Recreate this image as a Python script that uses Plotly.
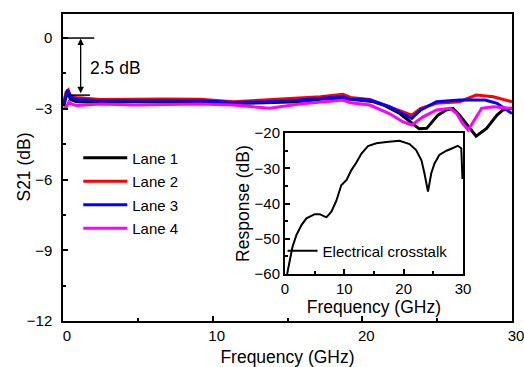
import plotly.graph_objects as go

# ---- data ----
lane1_f = [0.05, 0.2, 0.35, 0.5, 0.9, 2.5, 4.7, 6.9, 9.15, 11.4, 13.6, 15.8, 17.2, 18.7, 19.6,
           20.75, 21.4, 22.5, 23.2, 23.8, 24.3, 25.05, 25.6, 26.06, 26.5, 27.1, 27.6, 28.3,
           29.0, 29.4, 30.0]
lane1_v = [-2.9, -2.5, -2.35, -2.6, -2.7, -2.72, -2.7, -2.7, -2.72, -2.78, -2.74, -2.7, -2.6,
           -2.56, -2.62, -2.7, -2.84, -3.2, -3.55, -3.85, -3.83, -3.27, -3.05, -2.98, -3.27,
           -3.76, -4.16, -3.83, -3.27, -3.05, -2.98]

lane2_f = [0.05, 0.2, 0.35, 0.5, 0.9, 2.5, 4.7, 6.9, 9.15, 11.4, 13.4, 15.8, 17.2, 18.7, 19.2,
           20.5, 21.8, 22.7, 23.3, 23.9, 24.96, 26.5, 27.6, 28.75, 30.0]
lane2_v = [-2.7, -2.3, -2.2, -2.45, -2.52, -2.61, -2.6, -2.58, -2.6, -2.7, -2.63, -2.56, -2.49,
           -2.39, -2.52, -2.6, -2.91, -3.13, -3.27, -2.98, -2.77, -2.7, -2.42, -2.49, -2.7]

lane3_f = [0.05, 0.2, 0.3, 0.5, 0.9, 2.5, 4.7, 6.9, 9.15, 11.4, 13.6, 15.8, 18.7, 19.2, 20.5,
           21.8, 22.7, 23.3, 23.9, 24.96, 26.5, 28.2, 29.0, 30.0]
lane3_v = [-2.8, -2.4, -2.2, -2.5, -2.61, -2.66, -2.67, -2.65, -2.66, -2.73, -2.7, -2.63, -2.49,
           -2.6, -2.63, -2.91, -3.2, -3.41, -3.05, -2.7, -2.63, -2.63, -2.77, -3.2]

lane4_f = [0.05, 0.2, 0.4, 0.6, 0.9, 2.5, 4.7, 6.9, 9.15, 11.4, 13.8, 15.8, 18.7, 19.2, 20.5,
           21.8, 22.7, 23.3, 24.05, 24.96, 25.85, 26.3, 26.7, 27.07, 27.5, 27.97, 28.75, 30.0]
lane4_v = [-3.0, -2.95, -2.7, -2.8, -2.86, -2.8, -2.84, -2.82, -2.8, -2.84, -2.98, -2.8, -2.63,
           -2.74, -2.84, -3.2, -3.55, -3.69, -3.34, -3.05, -2.98, -3.2, -3.62, -3.9, -3.48,
           -2.98, -2.91, -2.98]

xt_f = [0.39, 0.73, 1.29, 1.96, 2.8, 3.64, 5.04, 5.88, 7.0, 7.84, 8.68, 9.5, 10.4, 11.2, 12.0,
        12.9, 14.0, 15.4, 17.1, 19.3, 21.0, 22.1, 23.0, 23.5, 24.1, 24.65, 25.2, 26.0, 27.2,
        28.2, 29.1, 29.7, 29.9]
xt_v = [-60.0, -57.0, -52.3, -48.9, -46.1, -44.2, -43.0, -43.0, -43.9, -42.3, -39.2, -34.8,
        -33.3, -30.5, -28.5, -25.8, -23.7, -22.9, -22.5, -22.2, -23.1, -24.8, -27.7, -31.4,
        -36.6, -31.4, -28.6, -26.2, -25.0, -24.3, -23.6, -24.3, -33.0]

lanes = [("Lane 1", lane1_f, lane1_v, "black"),
         ("Lane 2", lane2_f, lane2_v, "#ff0000"),
         ("Lane 3", lane3_f, lane3_v, "#0000ff"),
         ("Lane 4", lane4_f, lane4_v, "#ff00ff")]

main_xticks = [0, 10, 20, 30]
main_yticks = [-12, -9, -6, -3, 0]
inset_xticks = [0, 10, 20, 30]
inset_yticks = [-60, -50, -40, -30, -20]

FONT = "Liberation Sans, Arial, sans-serif"

fig = go.Figure()
for i, (name, f, v, c) in enumerate(lanes):
    fig.add_trace(go.Scatter(x=f, y=v, mode="lines", name=name, legendgroup=name,
                             line=dict(color=c, width=3), legend="legend"))

fig.add_trace(go.Scatter(x=xt_f, y=xt_v, mode="lines", name="Electrical crosstalk",
                         line=dict(color="black", width=2), xaxis="x2", yaxis="y2",
                         legend="legend2"))

axis_common = dict(showgrid=False, zeroline=False, showline=True, linecolor="black",
                   linewidth=1.5, mirror=True, ticks="inside", ticklen=5, tickwidth=1.5,
                   tickcolor="black", tickfont=dict(size=15, color="black"),
                   automargin=False, ticklabeloverflow="allow")

fig.update_layout(
    width=524, height=367,
    margin=dict(l=63, r=12, t=14, b=46),
    paper_bgcolor="white", plot_bgcolor="white",
    font=dict(family=FONT, size=15, color="black"),
    xaxis=dict(range=[0, 30], tickvals=main_xticks, ticklabelshift=4,
               minor=dict(tickvals=[5, 15, 25], ticks="inside", ticklen=3, tickwidth=1.5,
                          tickcolor="black"),
               title=dict(text="Frequency (GHz)", font=dict(size=17.5), standoff=9),
               **axis_common),
    yaxis=dict(range=[-12, 1.02], tickvals=main_yticks, ticklabelstandoff=6,
               minor=dict(tickvals=[-10.5, -7.5, -4.5, -1.5], ticks="inside", ticklen=3,
                          tickwidth=1.5, tickcolor="black"),
               **axis_common),
    xaxis2=dict(domain=[0.494, 0.891], anchor="y2", range=[0, 30], tickvals=inset_xticks,
                minor=dict(tickvals=[5, 15, 25], ticks="inside", ticklen=3, tickwidth=1.5,
                           tickcolor="black"),
                title=dict(text="Frequency (GHz)", font=dict(size=17.5), standoff=0),
                **axis_common),
    yaxis2=dict(domain=[0.153, 0.612], anchor="x2", range=[-60, -20], tickvals=inset_yticks,
                minor=dict(tickvals=[-55, -45, -35, -25], ticks="inside", ticklen=3,
                           tickwidth=1.5, tickcolor="black"),
                title=dict(text="Response (dB)", font=dict(size=17.5), standoff=0),
                **axis_common),
    legend=dict(x=0.034, y=0.585, xanchor="left", yanchor="top", bgcolor="rgba(0,0,0,0)",
                font=dict(size=15), tracegroupgap=1, itemwidth=44),
    legend2=dict(x=0.489, y=0.228, xanchor="left", yanchor="middle", bgcolor="rgba(0,0,0,0)",
                 font=dict(size=15), itemwidth=30),
    showlegend=True,
)

# main y-axis title placed as a rotated annotation
fig.add_annotation(x=-0.089, y=0.5, xref="paper", yref="paper", text="S21 (dB)",
                   textangle=-90, showarrow=False, xanchor="center", yanchor="middle",
                   font=dict(size=17.5))

# 2.5 dB marker
fig.add_shape(type="line", xref="x", yref="y", x0=0, x1=2.09, y0=0, y1=0,
              line=dict(color="black", width=1.5))
fig.add_shape(type="line", xref="x", yref="y", x0=0.3, x1=1.8, y0=-2.42, y1=-2.42,
              line=dict(color="black", width=1.5))
fig.add_annotation(x=1.18, y=-0.02, ax=1.18, ay=-2.4, xref="x", yref="y", axref="x",
                   ayref="y", text="", showarrow=True, arrowhead=2, arrowside="end+start",
                   arrowwidth=1.3, arrowsize=1, arrowcolor="black")
fig.add_annotation(x=1.67, y=-1.27, xref="x", yref="y", text="2.5 dB", showarrow=False,
                   xanchor="left", yanchor="middle", font=dict(size=17.5))

fig.write_html(
    "out.html",
    config={"displayModeBar": False, "responsive": False},
    post_script="document.body.style.margin='0';",
)
